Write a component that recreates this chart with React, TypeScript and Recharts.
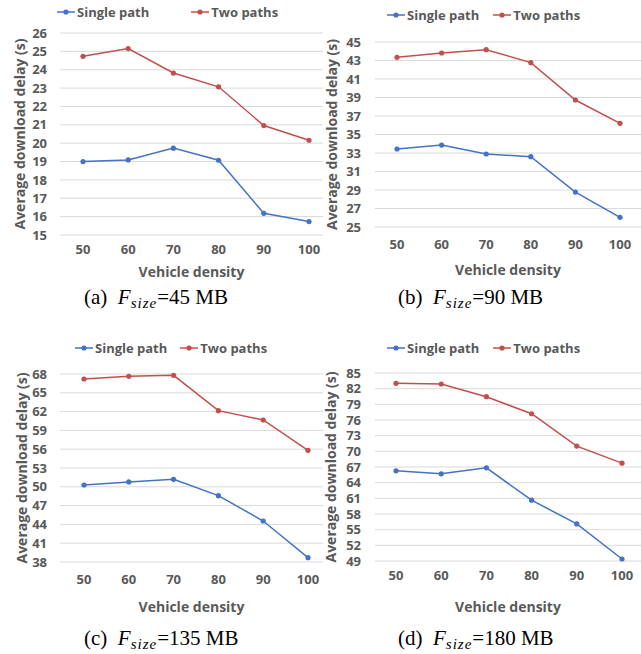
import React from 'react';
import { CartesianGrid, Line, LineChart, XAxis, YAxis } from 'recharts';

// ===== Ma'lumotlar =====
const DENSITY = [50, 60, 70, 80, 90, 100];

const SINGLE_A = [19.0, 19.09, 19.73, 19.07, 16.18, 15.73];
const TWO_A = [24.73, 25.15, 23.82, 23.07, 20.96, 20.16];
const SINGLE_B = [33.43, 33.86, 32.89, 32.6, 28.78, 26.05];
const TWO_B = [43.34, 43.81, 44.17, 42.77, 38.73, 36.21];
const SINGLE_C = [50.29, 50.77, 51.19, 48.59, 44.54, 38.69];
const TWO_C = [67.2, 67.63, 67.79, 62.15, 60.66, 55.82];
const SINGLE_D = [66.27, 65.69, 66.84, 60.64, 56.1, 49.38];
const TWO_D = [83.02, 82.89, 80.46, 77.2, 71.0, 67.74];

const TICKS_A = [15, 16, 17, 18, 19, 20, 21, 22, 23, 24, 25, 26];
const TICKS_B = [25, 27, 29, 31, 33, 35, 37, 39, 41, 43, 45];
const TICKS_C = [38, 41, 44, 47, 50, 53, 56, 59, 62, 65, 68];
const TICKS_D = [49, 52, 55, 58, 61, 64, 67, 70, 73, 76, 79, 82, 85];

const SERIES_NAMES = ['Single path', 'Two paths'];

const COLOR = {
  blue: '#4472c4',
  red: '#c0504d',
  text: '#595959',
  grid: '#d9d9d9',
};

const FONT = '"Open Sans", sans-serif';

function rows(single: number[], two: number[]) {
  return DENSITY.map((d, i) => ({ density: d, single: single[i], two: two[i] }));
}

// ===== Legenda (Excel uslubida) =====
function LegendItem({ label, color }: { label: string; color: string }) {
  return (
    <span style={{ display: 'inline-flex', alignItems: 'center' }}>
      <svg width={18} height={8} style={{ marginRight: 2 }}>
        <line x1={0} y1={4} x2={18} y2={4} stroke={color} strokeWidth={1.5} />
        <circle cx={9} cy={4} r={2.6} fill={color} />
      </svg>
      {label}
    </span>
  );
}

function ChartLegend({ x, y, gap }: { x: number; y: number; gap: number }) {
  return (
    <div
      style={{
        position: 'absolute',
        left: x,
        top: y - 9,
        height: 18,
        display: 'flex',
        alignItems: 'center',
        gap,
        fontFamily: FONT,
        fontWeight: 700,
        fontSize: 13,
        color: COLOR.text,
        whiteSpace: 'nowrap',
      }}
    >
      <LegendItem label={SERIES_NAMES[0]} color={COLOR.blue} />
      <LegendItem label={SERIES_NAMES[1]} color={COLOR.red} />
    </div>
  );
}

// ===== Bitta panel =====
interface PanelProps {
  x: number;
  y: number;
  w: number;
  h: number;
  single: number[];
  two: number[];
  ticks: number[];
  margin: { top: number; right: number; bottom: number };
  yWidth: number;
  yLabelOffset: number;
  yTickMargin: number;
  xHeight: number;
  xTickMargin: number;
  pad: { left: number; right: number };
}

function Panel(p: PanelProps) {
  const data = rows(p.single, p.two);
  const tickStyle = { fontSize: 13, fontFamily: FONT, fontWeight: 700, fill: COLOR.text };
  const titleStyle = { fontSize: 14, fontFamily: FONT, fontWeight: 700, fill: COLOR.text };
  return (
    <div style={{ position: 'absolute', left: p.x, top: p.y }}>
      <LineChart
        width={p.w}
        height={p.h}
        data={data}
        margin={{ top: p.margin.top, right: p.margin.right, bottom: p.margin.bottom, left: 0 }}
      >
        <CartesianGrid stroke={COLOR.grid} vertical={false} />
        <XAxis
          dataKey="density"
          type="number"
          domain={[50, 100]}
          ticks={DENSITY}
          padding={p.pad}
          axisLine={false}
          tickLine={false}
          tickMargin={p.xTickMargin}
          height={p.xHeight}
          tick={tickStyle}
          label={{ value: 'Vehicle density', position: 'insideBottom', offset: 0, style: titleStyle }}
        />
        <YAxis
          domain={[p.ticks[0], p.ticks[p.ticks.length - 1]]}
          ticks={p.ticks}
          interval={0}
          axisLine={false}
          tickLine={false}
          tickMargin={p.yTickMargin}
          width={p.yWidth}
          tick={tickStyle}
          label={{
            value: 'Average download delay (s)',
            angle: -90,
            position: 'insideLeft',
            offset: p.yLabelOffset,
            style: { ...titleStyle, textAnchor: 'middle' },
          }}
        />
        <Line
          dataKey="single"
          name={SERIES_NAMES[0]}
          stroke={COLOR.blue}
          strokeWidth={1.5}
          dot={{ r: 2.6, fill: COLOR.blue, stroke: 'none' }}
          isAnimationActive={false}
        />
        <Line
          dataKey="two"
          name={SERIES_NAMES[1]}
          stroke={COLOR.red}
          strokeWidth={1.5}
          dot={{ r: 2.6, fill: COLOR.red, stroke: 'none' }}
          isAnimationActive={false}
        />
      </LineChart>
    </div>
  );
}

function Caption({ x, y, tag, size }: { x: number; y: number; tag: string; size: string }) {
  return (
    <div
      style={{
        position: 'absolute',
        left: x,
        top: y - 12,
        fontFamily: '"Liberation Serif", serif',
        fontSize: 21,
        lineHeight: '24px',
        color: '#000',
        whiteSpace: 'nowrap',
      }}
    >
      ({tag})&nbsp;&nbsp;<i>F</i>
      <sub style={{ fontSize: 15, verticalAlign: -4, letterSpacing: 1 }}>
        <i>size</i>
      </sub>
      ={size} MB
    </div>
  );
}

export default function App() {
  return (
    <div style={{ position: 'absolute', left: 0, top: 0, width: 641, height: 654, background: '#fff', overflow: 'hidden' }}>
      <Panel
        x={0} y={0} w={330} h={285}
        single={SINGLE_A} two={TWO_A} ticks={TICKS_A}
        margin={{ top: 33, right: 7, bottom: 8 }}
        yWidth={60} yLabelOffset={20} yTickMargin={7}
        xHeight={42} xTickMargin={4}
        pad={{ left: 23, right: 14 }}
      />
      <Panel
        x={320} y={0} w={321} h={285}
        single={SINGLE_B} two={TWO_B} ticks={TICKS_B}
        margin={{ top: 42, right: 0, bottom: 10 }}
        yWidth={55} yLabelOffset={12} yTickMargin={8}
        xHeight={48} xTickMargin={7}
        pad={{ left: 22, right: 21 }}
      />
      <Panel
        x={0} y={330} w={330} h={324}
        single={SINGLE_C} two={TWO_C} ticks={TICKS_C}
        margin={{ top: 44, right: 7, bottom: 42 }}
        yWidth={60} yLabelOffset={22} yTickMargin={7}
        xHeight={50} xTickMargin={7}
        pad={{ left: 24, right: 15 }}
      />
      <Panel
        x={320} y={330} w={321} h={324}
        single={SINGLE_D} two={TWO_D} ticks={TICKS_D}
        margin={{ top: 43, right: 0, bottom: 42 }}
        yWidth={55} yLabelOffset={11} yTickMargin={8}
        xHeight={51} xTickMargin={4}
        pad={{ left: 21, right: 19 }}
      />
      <ChartLegend x={57} y={12} gap={42} />
      <ChartLegend x={387} y={15} gap={14} />
      <ChartLegend x={75} y={348} gap={13} />
      <ChartLegend x={387} y={348} gap={14} />
      <Caption x={84} y={297} tag="a" size="45" />
      <Caption x={398} y={297} tag="b" size="90" />
      <Caption x={84} y={638} tag="c" size="135" />
      <Caption x={398} y={638} tag="d" size="180" />
    </div>
  );
}
